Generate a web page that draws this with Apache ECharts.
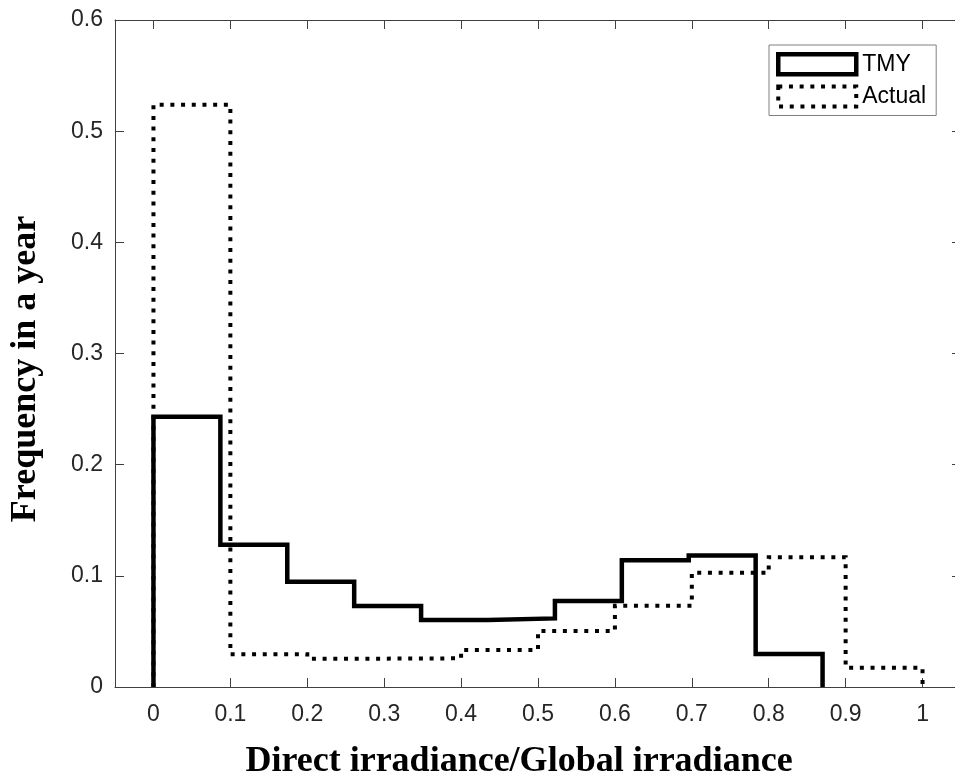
<!DOCTYPE html>
<html>
<head>
<meta charset="utf-8">
<script src="https://cdn.jsdelivr.net/npm/echarts@6/dist/echarts.min.js"></script>
<style>
  html, body { margin: 0; padding: 0; background: #fff; overflow: hidden; }
  /* slightly wider than the window so the right edge of the axes box falls just outside */
  #chart { width: 962px; height: 781px; }
</style>
</head>
<body>
<div id="chart"></div>
<script>
// Histogram bin edges and relative frequencies (stairs outlines)
const tmyEdges = [0, 0.087, 0.174, 0.261, 0.348, 0.435, 0.522, 0.609, 0.696, 0.783, 0.87];
const tmyFreq = [0.243, 0.128, 0.0946, 0.0728, 0.0602, 0.0617, 0.0773, 0.1141, 0.1183, 0.0296];

const actualEdges = [0, 0.1, 0.2, 0.3, 0.4, 0.5, 0.6, 0.7, 0.8, 0.9, 1.0];
const actualFreq = [0.5238, 0.0294, 0.0255, 0.0258, 0.0332, 0.0503, 0.073, 0.1027, 0.1168, 0.0173];

const xTicks = [0, 0.1, 0.2, 0.3, 0.4, 0.5, 0.6, 0.7, 0.8, 0.9, 1];
const yTicks = [0, 0.1, 0.2, 0.3, 0.4, 0.5, 0.6];

const seriesNames = ['TMY', 'Actual'];
const xTitle = 'Direct irradiance/Global irradiance';
const yTitle = 'Frequency in a year';

// Turn edges + heights into a closed stairs outline
function stairs(edges, heights) {
  const pts = [[edges[0], 0]];
  for (let i = 0; i < heights.length; i++) {
    pts.push([edges[i], heights[i]]);
    pts.push([edges[i + 1], heights[i]]);
  }
  pts.push([edges[edges.length - 1], 0]);
  return pts;
}

const axisColor = '#404040';
const labelColor = '#262626';
const sansFont = '"Liberation Sans", Arial, Helvetica, sans-serif';
const serifFont = '"Liberation Serif", "Times New Roman", serif';

const chart = echarts.init(document.getElementById('chart'), null, { renderer: 'canvas' });

const option = {
  backgroundColor: '#fff',
  animation: false,
  grid: { left: 115, top: 20, right: 1, bottom: 94, containLabel: false },
  legend: {
    orient: 'vertical',
    left: 769,
    top: 45,
    padding: [7, 10, 7, 7],
    itemGap: 8,
    itemWidth: 78,
    itemHeight: 20,
    borderColor: '#808080',
    borderWidth: 1,
    backgroundColor: '#fff',
    textStyle: { fontFamily: sansFont, fontSize: 23, color: '#000', padding: [0, 0, 0, 1] },
    data: [
      {
        name: seriesNames[0], icon: 'rect',
        itemStyle: { color: 'rgba(0,0,0,0)', borderColor: '#000', borderWidth: 4.5 }
      },
      {
        name: seriesNames[1], icon: 'rect',
        itemStyle: { color: 'rgba(0,0,0,0)', borderColor: '#000', borderWidth: 4, borderType: [4, 6.7] }
      }
    ]
  },
  xAxis: [
    {
      type: 'value',
      min: -0.05,
      max: 1.05,
      position: 'bottom',
      splitLine: { show: false },
      axisLine: { show: true, onZero: false, lineStyle: { color: axisColor, width: 1 } },
      axisTick: { show: true, inside: true, length: 9, customValues: xTicks, lineStyle: { color: axisColor } },
      axisLabel: { show: true, customValues: xTicks, margin: 16, fontFamily: sansFont, fontSize: 23, color: labelColor }
    },
    {
      type: 'value',
      min: -0.05,
      max: 1.05,
      position: 'top',
      splitLine: { show: false },
      axisLine: { show: true, onZero: false, lineStyle: { color: axisColor, width: 1 } },
      axisTick: { show: true, inside: true, length: 9, customValues: xTicks, lineStyle: { color: axisColor } },
      axisLabel: { show: false }
    }
  ],
  yAxis: [
    {
      type: 'value',
      min: 0,
      max: 0.6,
      interval: 0.1,
      position: 'left',
      splitLine: { show: false },
      axisLine: { show: true, onZero: false, lineStyle: { color: axisColor, width: 1 } },
      axisTick: { show: true, inside: true, length: 9, lineStyle: { color: axisColor } },
      axisLabel: { show: true, margin: 12, fontFamily: sansFont, fontSize: 23, color: labelColor,
        formatter: v => String(yTicks[Math.round(v * 10)]) }
    },
    {
      type: 'value',
      min: 0,
      max: 0.6,
      interval: 0.1,
      position: 'right',
      splitLine: { show: false },
      axisLine: { show: true, onZero: false, lineStyle: { color: axisColor, width: 1 } },
      axisTick: { show: true, inside: true, length: 9, lineStyle: { color: axisColor } },
      axisLabel: { show: false }
    }
  ],
  graphic: [
    {
      type: 'text',
      x: 519, y: 762,
      style: {
        text: xTitle, fontFamily: serifFont, fontWeight: 'bold', fontSize: 36,
        fill: '#000', textAlign: 'center', textVerticalAlign: 'middle'
      }
    },
    {
      type: 'text',
      x: 26, y: 369,
      rotation: Math.PI / 2,
      style: {
        text: yTitle, fontFamily: serifFont, fontWeight: 'bold', fontSize: 36,
        fill: '#000', textAlign: 'center', textVerticalAlign: 'middle'
      }
    }
  ],
  series: [
    {
      name: seriesNames[0],
      type: 'line',
      xAxisIndex: 0, yAxisIndex: 0,
      data: stairs(tmyEdges, tmyFreq),
      showSymbol: false,
      symbol: 'none',
      color: '#000',
      lineStyle: { color: '#000', width: 4.5, join: 'miter', cap: 'butt' },
      z: 2
    },
    {
      name: seriesNames[1],
      type: 'line',
      xAxisIndex: 0, yAxisIndex: 0,
      data: stairs(actualEdges, actualFreq),
      showSymbol: false,
      symbol: 'none',
      color: '#000',
      lineStyle: { color: '#000', width: 4, type: [4, 6.7], join: 'miter', cap: 'butt' },
      z: 3
    }
  ]
};

chart.setOption(option);
</script>
</body>
</html>
